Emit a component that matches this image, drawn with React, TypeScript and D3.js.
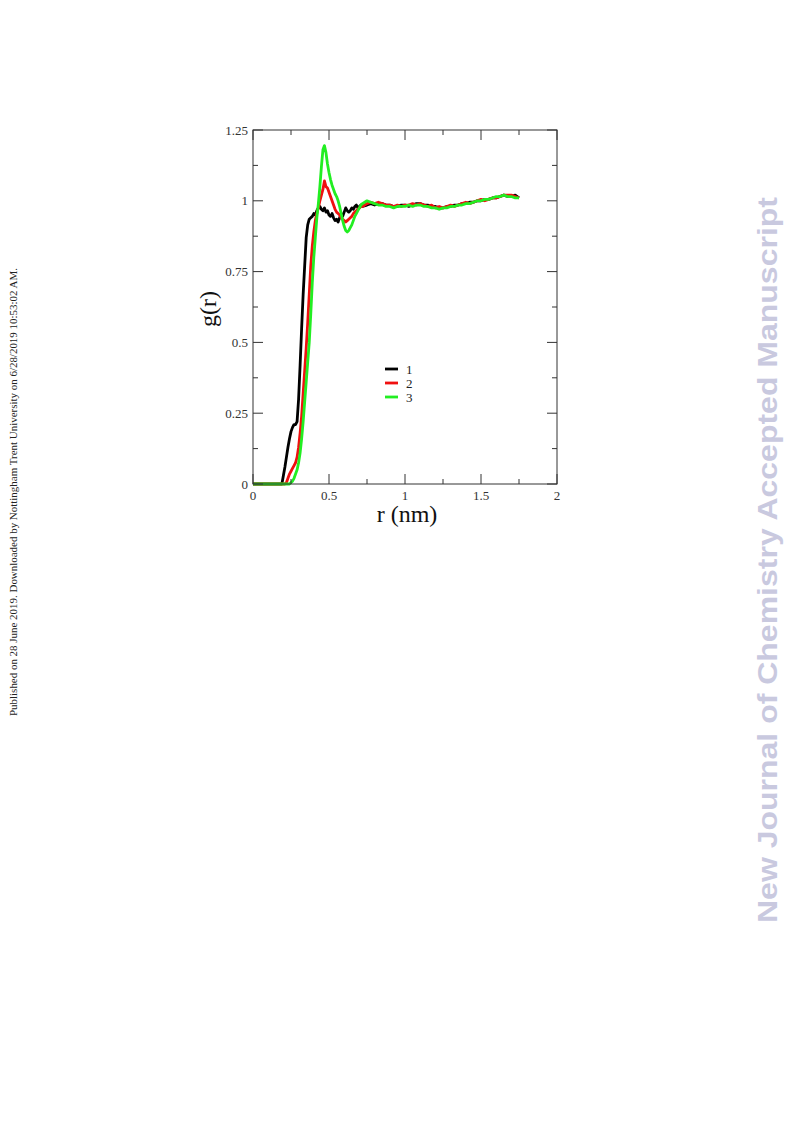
import React from "react";
import * as d3 from "d3";

const rHead = [0, 0.17, 0.18, 0.19, 0.2, 0.21, 0.22, 0.23, 0.24, 0.25, 0.26, 0.27, 0.28, 0.29, 0.3, 0.31, 0.32, 0.33, 0.34, 0.35, 0.36, 0.37, 0.38, 0.39, 0.4, 0.41, 0.42, 0.43, 0.44, 0.45, 0.46, 0.47, 0.48, 0.49, 0.5, 0.51, 0.52, 0.53, 0.54, 0.55, 0.56, 0.57, 0.58, 0.59, 0.6, 0.61, 0.62, 0.63, 0.64, 0.65, 0.66, 0.67, 0.68, 0.69, 0.7, 0.71, 0.72];
const rTail = [0.75, 0.775, 0.8, 0.825, 0.85, 0.875, 0.9, 0.925, 0.95, 0.975, 1.0, 1.025, 1.05, 1.075, 1.1, 1.125, 1.15, 1.175, 1.2, 1.225, 1.25, 1.275, 1.3, 1.325, 1.35, 1.375, 1.4, 1.425, 1.45, 1.475, 1.5, 1.525, 1.55, 1.575, 1.6, 1.625, 1.65, 1.675, 1.7, 1.725, 1.75];
const rGrid = [...rHead, ...rTail];

const g1 = [
  0, 0, 0, 0, 0.03, 0.06, 0.095, 0.13, 0.16, 0.185, 0.2, 0.21, 0.21, 0.22, 0.3, 0.42, 0.55, 0.67, 0.77, 0.87, 0.915, 0.935, 0.94, 0.945, 0.955, 0.95, 0.965, 0.975, 0.98, 0.97, 0.965, 0.975, 0.96, 0.965, 0.95, 0.945, 0.955, 0.94, 0.93, 0.935, 0.925, 0.94, 0.955, 0.945, 0.96, 0.975, 0.965, 0.96, 0.965, 0.975, 0.97, 0.98, 0.985, 0.975, 0.98, 0.985, 0.98,
  0.985, 0.99, 0.985, 0.99, 0.99, 0.985, 0.985, 0.98, 0.98, 0.985, 0.985, 0.98, 0.985, 0.99, 0.99, 0.985, 0.985, 0.98, 0.98, 0.975, 0.975, 0.98, 0.98, 0.985, 0.985, 0.99, 0.99, 0.995, 0.995, 1.0, 1.0, 1.005, 1.005, 1.01, 1.01, 1.015, 1.02, 1.015, 1.015, 1.02, 1.01,
];
const g2 = [
  0, 0, 0, 0, 0, 0, 0.005, 0.02, 0.035, 0.045, 0.055, 0.065, 0.075, 0.095, 0.13, 0.18, 0.24, 0.32, 0.4, 0.48, 0.57, 0.67, 0.77, 0.84, 0.89, 0.93, 0.955, 0.975, 1.0, 1.02, 1.04, 1.07, 1.05, 1.045, 1.03, 1.015, 1.0, 0.985, 0.97, 0.96, 0.955, 0.95, 0.94, 0.935, 0.93, 0.925, 0.93, 0.935, 0.94, 0.945, 0.955, 0.96, 0.965, 0.97, 0.975, 0.98, 0.98,
  0.99, 0.995, 0.99, 0.995, 0.99, 0.985, 0.985, 0.98, 0.985, 0.98, 0.985, 0.985, 0.99, 0.985, 0.99, 0.985, 0.98, 0.985, 0.975, 0.98, 0.975, 0.98, 0.985, 0.98, 0.985, 0.99, 0.995, 0.99, 0.995, 1.0, 1.005, 1.0, 1.005, 1.01, 1.01, 1.015, 1.02, 1.02, 1.02, 1.015, 1.01,
];
const g3 = [
  0, 0, 0, 0, 0, 0, 0, 0, 0, 0.005, 0.01, 0.02, 0.035, 0.05, 0.075, 0.11, 0.16, 0.22, 0.29, 0.36, 0.43, 0.5, 0.6, 0.71, 0.8, 0.87, 0.94, 0.99, 1.05, 1.12, 1.18, 1.195, 1.17, 1.13, 1.1, 1.075, 1.055, 1.04, 1.025, 1.015, 1.0, 0.98, 0.955, 0.93, 0.91, 0.895, 0.89, 0.895, 0.905, 0.915, 0.93, 0.945, 0.955, 0.965, 0.975, 0.985, 0.99,
  1.0, 0.995, 0.99, 0.985, 0.985, 0.98, 0.98, 0.975, 0.98, 0.98, 0.98, 0.985, 0.98, 0.985, 0.985, 0.98, 0.98, 0.975, 0.975, 0.97, 0.975, 0.975, 0.98, 0.98, 0.985, 0.985, 0.99, 0.99, 0.995, 1.0, 1.0, 1.005, 1.005, 1.01, 1.015, 1.015, 1.02, 1.015, 1.015, 1.01, 1.01,
];

const seriesNames = ["1", "2", "3"];
const seriesColors = ["#000000", "#f01010", "#22ee22"];
const seriesValues = [g1, g2, g3];

const xMajor = [0, 0.5, 1, 1.5, 2];
const xMinor = [0.25, 0.75, 1.25, 1.75];
const yMajor = [0, 0.25, 0.5, 0.75, 1, 1.25];
const yMinor = [0.125, 0.375, 0.625, 0.875, 1.125];

const xLabel = "r (nm)";
const yLabel = "g(r)";
const sideNote = "Published on 28 June 2019. Downloaded by Nottingham Trent University on 6/28/2019 10:53:02 AM.";
const watermark = "New Journal of Chemistry Accepted Manuscript";

export default function App() {
  const left = 253, right = 557, top = 130, bottom = 484;
  const x = d3.scaleLinear().domain([0, 2]).range([left, right]);
  const y = d3.scaleLinear().domain([0, 1.25]).range([bottom, top]);
  const line = d3
    .line<[number, number]>()
    .x((d) => x(d[0]))
    .y((d) => y(d[1]));
  const serif = "'Liberation Serif', 'Times New Roman', serif";
  const tc = "#333";
  const major = 10, minor = 5;

  return (
    <svg width={793} height={1123} style={{ position: "absolute", left: 0, top: 0, background: "#fff" }}>
      <rect x={0} y={0} width={793} height={1123} fill="#fff" />
      {seriesValues.map((vals, i) => (
        <path
          key={i}
          d={line(rGrid.map((r, j) => [r, vals[j]] as [number, number])) || ""}
          fill="none"
          stroke={seriesColors[i]}
          strokeWidth={2.8}
          strokeLinejoin="round"
        />
      ))}
      <rect x={left} y={top} width={right - left} height={bottom - top} fill="none" stroke={tc} strokeWidth={1} />
      {xMajor.map((v) => (
        <g key={"xm" + v}>
          <line x1={x(v)} x2={x(v)} y1={bottom} y2={bottom - major} stroke={tc} />
          <line x1={x(v)} x2={x(v)} y1={top} y2={top + major} stroke={tc} />
          <text x={x(v)} y={500} fontFamily={serif} fontSize={13} textAnchor="middle" fill="#333">
            {String(v)}
          </text>
        </g>
      ))}
      {xMinor.map((v) => (
        <g key={"xn" + v}>
          <line x1={x(v)} x2={x(v)} y1={bottom} y2={bottom - minor} stroke={tc} />
          <line x1={x(v)} x2={x(v)} y1={top} y2={top + minor} stroke={tc} />
        </g>
      ))}
      {yMajor.map((v) => (
        <g key={"ym" + v}>
          <line x1={left} x2={left + major} y1={y(v)} y2={y(v)} stroke={tc} />
          <line x1={right} x2={right - major} y1={y(v)} y2={y(v)} stroke={tc} />
          <text x={248} y={y(v) + 4.5} fontFamily={serif} fontSize={13} textAnchor="end" fill="#333">
            {String(v)}
          </text>
        </g>
      ))}
      {yMinor.map((v) => (
        <g key={"yn" + v}>
          <line x1={left} x2={left + minor} y1={y(v)} y2={y(v)} stroke={tc} />
          <line x1={right} x2={right - minor} y1={y(v)} y2={y(v)} stroke={tc} />
        </g>
      ))}
      <text x={407} y={522} fontFamily={serif} fontSize={24} textAnchor="middle" fill="#111">
        {xLabel}
      </text>
      <text
        transform={`translate(216,309) rotate(-90)`}
        fontFamily={serif}
        fontSize={24}
        textAnchor="middle"
        fill="#111"
      >
        {yLabel}
      </text>
      {seriesNames.map((n, i) => (
        <g key={"lg" + n}>
          <line x1={385} x2={398} y1={369 + i * 14} y2={369 + i * 14} stroke={seriesColors[i]} strokeWidth={2.8} />
          <text x={406} y={373.5 + i * 14} fontFamily={serif} fontSize={13} fill="#222">
            {n}
          </text>
        </g>
      ))}
      <text
        transform={`translate(17,492) rotate(-90)`}
        fontFamily={serif}
        fontSize={10}
        textAnchor="middle"
        fill="#222"
        textLength={448}
        lengthAdjust="spacingAndGlyphs"
      >
        {sideNote}
      </text>
      <text
        transform={`translate(777,560) rotate(-90)`}
        fontFamily="'Liberation Sans', Arial, sans-serif"
        fontWeight="bold"
        fontSize={28}
        textAnchor="middle"
        fill="#c9c9df"
        textLength={726}
        lengthAdjust="spacingAndGlyphs"
      >
        {watermark}
      </text>
    </svg>
  );
}
